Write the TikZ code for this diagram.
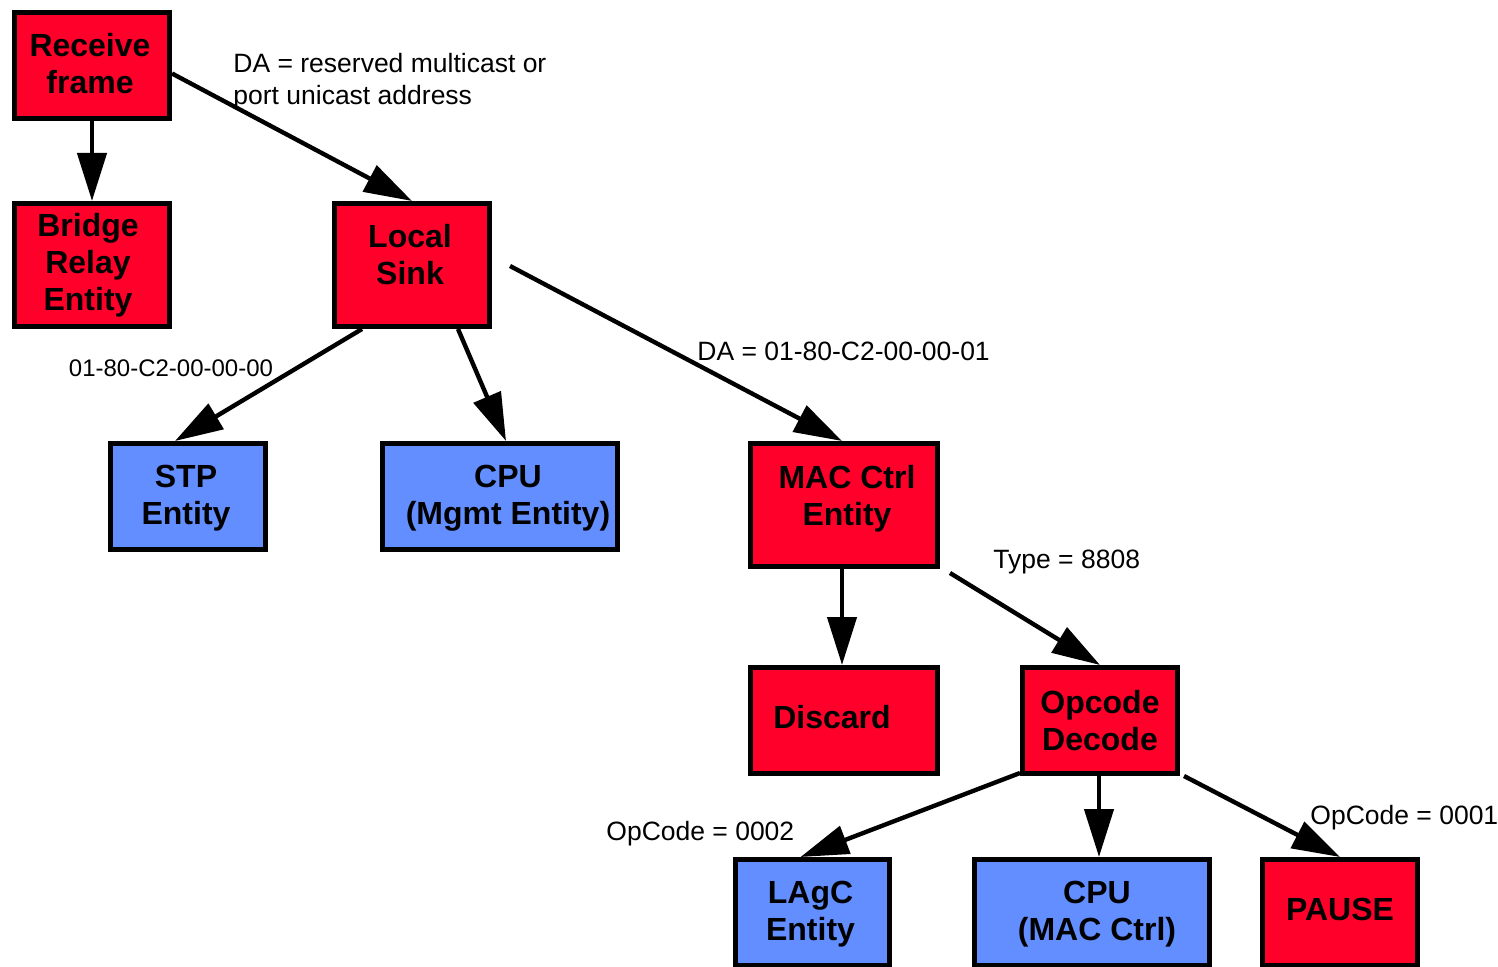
\documentclass[tikz,border=0pt]{standalone}
\usepackage{fontspec}
\setmainfont{Liberation Sans}
\usetikzlibrary{arrows.meta,calc}
\definecolor{boxred}{RGB}{255,0,42}
\definecolor{boxblue}{RGB}{98,142,255}
\begin{document}
\begin{tikzpicture}[x=0.5pt,y=-0.5pt,
  entity/.style={draw=black, line width=2.4pt, inner sep=0pt,
    minimum width=77.6pt, minimum height=53.1pt},
  hot/.style={fill=boxred},
  cool/.style={fill=boxblue},
  tall/.style={minimum height=61.6pt},
  wide/.style={minimum width=117.6pt},
  mid/.style={minimum width=93.6pt},
  inlbl/.style={align=center, inner sep=0pt,
    font=\fontsize{16}{18.5}\selectfont\bfseries},
  arr/.style={line width=2.2pt, -{Triangle[length=24pt,width=14.5pt]}},
  note/.style={inner sep=0pt, align=left, font=\fontsize{13.25}{16}\selectfont},
]
\useasboundingbox (0,0) rectangle (1498,967);
\fill[white] (0,0) rectangle (1498,967);

% boxes, each with its caption as a centred label
\node[entity,hot,label={[inlbl,xshift=-1pt,yshift=1pt]center:Receive\\frame}] (rf) at (92,65.5) {};
\node[entity,hot,tall,label={[inlbl,xshift=-2pt]center:Bridge\\Relay\\Entity}] (br) at (92,265) {};
\node[entity,hot,tall,label={[inlbl,xshift=-1pt,yshift=5pt]center:Local\\Sink}] (ls) at (412,265) {};
\node[entity,cool,label={[inlbl,xshift=-1pt,yshift=-0.75pt]center:STP\\Entity}] (stp) at (188,496.5) {};
\node[entity,cool,wide,label={[inlbl,xshift=4pt,yshift=-0.75pt]center:CPU\\(Mgmt Entity)}] (cpua) at (500,496.5) {};
\node[entity,hot,tall,mid,label={[inlbl,xshift=1.5pt,yshift=3.25pt]center:MAC Ctrl\\Entity}] (mac) at (844,505) {};
\node[entity,hot,mid,label={[inlbl,xshift=-6pt,yshift=1.5pt]center:Discard}] (dis) at (844,720.5) {};
\node[entity,hot,label={[inlbl]center:Opcode\\Decode}] (op) at (1100,720.5) {};
\node[entity,cool,minimum width=77.1pt,label={[inlbl,xshift=-1pt,yshift=-1pt]center:LAgC\\Entity}] (lagc) at (812.5,912.5) {};
\node[entity,cool,wide,label={[inlbl,xshift=2.5pt,yshift=-0.75pt]center:CPU\\(MAC Ctrl)}] (cpub) at (1092,912.5) {};
\node[entity,hot,label={[inlbl,yshift=1.5pt]center:PAUSE}] (pause) at (1340,912.5) {};

% connectors
\coordinate (opb) at ($(op.south)+(-1,0)$);
\draw[arr] (rf.south) -- (br.north);
\draw[arr] ($(rf.east)+(0,8)$) -- (ls.north);
\draw[arr] ($(ls.south)+(-50,0)$) -- ($(stp.north)+(-13,0)$);
\draw[arr] ($(ls.south)+(46,0)$) -- ($(cpua.north)+(6,0)$);
\draw[arr] ($(ls.east)+(18,1)$) -- ($(mac.north)+(-2,0)$);
\draw[arr] ($(mac.south)+(-2,0)$) -- ($(dis.north)+(-2,0)$);
\draw[arr] ($(mac.south east)+(10,4)$) -- (op.north);
\draw[arr] ($(op.south west)+(0,-3)$) -- ($(lagc.north)+(-12,0)$);
\draw[arr] (opb) -- (opb |- cpub.north);
\draw[arr] ($(op.south east)+(4,0)$) -- (pause.north);

% conditions
\node[note,anchor=west] (n1) at (233,82) {DA = reserved multicast or\\port unicast address};
\node[note,anchor=center,font=\fontsize{12}{14}\selectfont] (n2) at (171,368) {01-80-C2-00-00-00};
\node[note,anchor=west] (n3) at (697,351) {DA = 01-80-C2-00-00-01};
\node[note,anchor=west] (n4) at (993,562) {Type = 8808};
\node[note,anchor=west] (n5) at (606,834) {OpCode = 0002};
\node[note,anchor=west] (n6) at (1310,818) {OpCode = 0001};
\end{tikzpicture}
\end{document}
